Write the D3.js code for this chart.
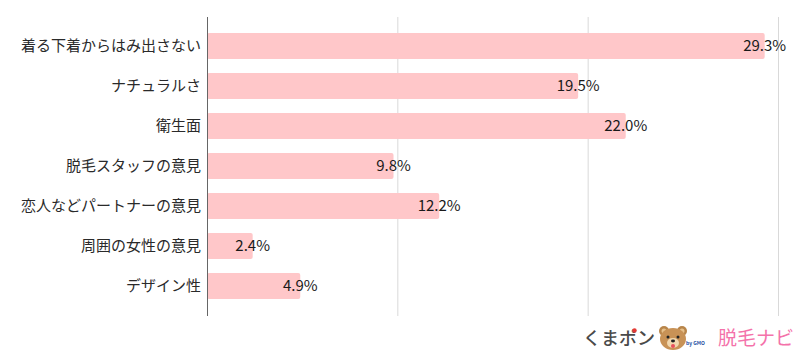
<!DOCTYPE html>
<html>
<head>
<meta charset="utf-8">
<script src="https://cdn.jsdelivr.net/npm/d3@7"></script>
<style>
  html, body { margin: 0; padding: 0; background: #fff; }
  svg { display: block; font-family: "Noto Sans CJK JP", "Noto Sans", sans-serif; }
</style>
</head>
<body>
<svg id="chart" width="800" height="350"></svg>
<script>
// Survey answers and their share (%)
const categories = [
  "着る下着からはみ出さない",
  "ナチュラルさ",
  "衛生面",
  "脱毛スタッフの意見",
  "恋人などパートナーの意見",
  "周囲の女性の意見",
  "デザイン性"
];
const values = [29.3, 19.5, 22.0, 9.8, 12.2, 2.4, 4.9];
const gridTicks = [10, 20, 30];

const svg = d3.select("#chart");

const x = d3.scaleLinear().domain([0, 30]).range([207, 778]);
const y = d3.scaleBand()
  .domain(categories)
  .range([26, 306])
  .paddingInner(0.35)
  .paddingOuter(0.175);

const plotTop = 17, plotBottom = 316;

// vertical gridlines
svg.append("g")
  .selectAll("line")
  .data(gridTicks)
  .join("line")
  .attr("x1", d => x(d) + 0.5)
  .attr("x2", d => x(d) + 0.5)
  .attr("y1", plotTop)
  .attr("y2", plotBottom)
  .attr("stroke", "#d9d9d9")
  .attr("stroke-width", 1);

// bars
svg.append("g")
  .selectAll("rect")
  .data(values)
  .join("rect")
  .attr("x", x(0))
  .attr("y", (d, i) => y(categories[i]))
  .attr("width", d => x(d) - x(0))
  .attr("height", y.bandwidth())
  .attr("rx", 2)
  .attr("fill", "#ffc7c9");

// category axis
const yAxis = d3.axisLeft(y).tickSize(0).tickPadding(6);
const gy = svg.append("g")
  .attr("transform", `translate(${x(0)},0)`)
  .call(yAxis);
gy.select(".domain").remove();
gy.selectAll("text")
  .attr("font-size", 15)
  .attr("fill", "#2a2a2a")
  .attr("font-weight", 400)
  .attr("font-family", "'Noto Sans CJK JP', sans-serif");

svg.append("line")
  .attr("x1", x(0) + 0.5)
  .attr("x2", x(0) + 0.5)
  .attr("y1", plotTop)
  .attr("y2", plotBottom)
  .attr("stroke", "#666")
  .attr("stroke-width", 1);

// value labels centred on bar ends
svg.append("g")
  .selectAll("text")
  .data(values)
  .join("text")
  .attr("x", d => x(d))
  .attr("y", (d, i) => y(categories[i]) + y.bandwidth() / 2)
  .attr("dy", "0.36em")
  .attr("text-anchor", "middle")
  .attr("font-size", 15)
  .attr("font-weight", 400)
  .attr("fill", "#1a1a1a")
  .text(d => d.toFixed(1) + "%");

// brand marks, bottom right
const brand = svg.append("g");
brand.append("text")
  .attr("x", 583).attr("y", 345)
  .attr("font-size", 18).attr("font-weight", 500)
  .attr("fill", "#4a4a4a")
  .text("くまポン");
brand.append("circle").attr("cx", 634.5).attr("cy", 330.5).attr("r", 2.2).attr("fill", "#e53935");

// bear face
const bear = brand.append("g").attr("transform", "translate(673,339)");
bear.append("circle").attr("cx", -9).attr("cy", -8).attr("r", 5).attr("fill", "#b8854a");
bear.append("circle").attr("cx", 9).attr("cy", -8).attr("r", 5).attr("fill", "#b8854a");
bear.append("circle").attr("cx", -9).attr("cy", -8).attr("r", 2.5).attr("fill", "#e6c08a");
bear.append("circle").attr("cx", 9).attr("cy", -8).attr("r", 2.5).attr("fill", "#e6c08a");
bear.append("ellipse").attr("cx", 0).attr("cy", 0).attr("rx", 13).attr("ry", 11).attr("fill", "#c89256");
bear.append("ellipse").attr("cx", 0).attr("cy", 4).attr("rx", 6).attr("ry", 5).attr("fill", "#f1d7ae");
bear.append("circle").attr("cx", -5).attr("cy", -2).attr("r", 1.5).attr("fill", "#222");
bear.append("circle").attr("cx", 5).attr("cy", -2).attr("r", 1.5).attr("fill", "#222");
bear.append("ellipse").attr("cx", 0).attr("cy", 2).attr("rx", 2).attr("ry", 1.4).attr("fill", "#222");
bear.append("ellipse").attr("cx", 0).attr("cy", 7).attr("rx", 2).attr("ry", 2).attr("fill", "#e8505b");

brand.append("text")
  .attr("x", 686).attr("y", 345)
  .attr("font-size", 5).attr("fill", "#1e50a2").attr("font-weight", 700)
  .text("by GMO");

brand.append("text")
  .attr("x", 718).attr("y", 345)
  .attr("font-size", 19)
  .attr("fill", "#f472aa")
  .text("脱毛ナビ");
</script>
</body>
</html>
